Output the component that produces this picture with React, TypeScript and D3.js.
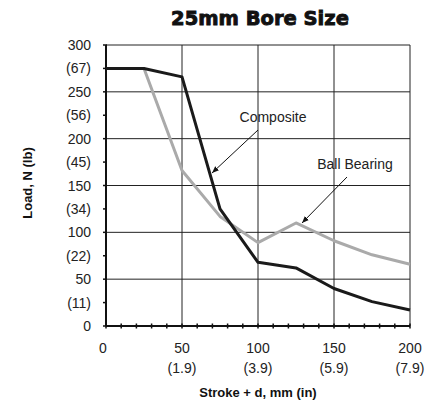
import React from 'react';
import * as d3 from 'd3';

const strokes = [0, 25, 50, 75, 100, 125, 150, 175, 200];
const composite = [275, 275, 266, 125, 68, 62, 40, 26, 17];
const ballBearing = [275, 275, 166, 117, 89, 110, 91, 76, 66];

const yMajor = [0, 50, 100, 150, 200, 250, 300];
const yMinorLabels: [number, string][] = [[25, '(11)'], [75, '(22)'], [125, '(34)'], [175, '(45)'], [225, '(56)'], [275, '(67)']];
const xMajor = [0, 50, 100, 150, 200];
const xInchLabels: [number, string][] = [[50, '(1.9)'], [100, '(3.9)'], [150, '(5.9)'], [200, '(7.9)']];

export default function App() {
  const x = d3.scaleLinear().domain([0, 200]).range([106, 410]);
  const y = d3.scaleLinear().domain([0, 300]).range([326, 45]);

  const line = d3.line<number>()
    .x((_, i) => x(strokes[i]))
    .y(d => y(d));

  const xMinor = d3.range(0, 201, 10);
  const yMinor = d3.range(0, 301, 25);
  const font = 'Liberation Sans, Arial, sans-serif';

  return (
    <svg width={433} height={407} style={{ position: 'absolute', left: 0, top: 0, background: '#fff' }} fontFamily={font}>
      <defs>
        <marker id="arr" viewBox="0 0 10 10" refX="10" refY="5" markerWidth="7" markerHeight="7" orient="auto">
          <path d="M0,1 L10,5 L0,9 z" fill="#111" />
        </marker>
      </defs>
      <text x={260} y={25} textAnchor="middle" fontSize={19.5} fontFamily="DejaVu Sans, sans-serif" fontWeight="bold" stroke="#111" strokeWidth={0.9} fill="#111">25mm Bore Size</text>

      {/* grid */}
      {yMajor.slice(1).map(v => (
        <line key={'gy' + v} x1={x(0)} x2={x(200)} y1={y(v)} y2={y(v)} stroke="#222" strokeWidth={1} />
      ))}
      {xMajor.slice(1).map(v => (
        <line key={'gx' + v} x1={x(v)} x2={x(v)} y1={y(0)} y2={y(300)} stroke="#222" strokeWidth={1} />
      ))}

      {/* axes */}
      <line x1={x(0)} x2={x(0)} y1={y(0)} y2={y(300)} stroke="#111" strokeWidth={2} />
      <line x1={x(0)} x2={x(200)} y1={y(0)} y2={y(0)} stroke="#111" strokeWidth={2} />
      {xMinor.map(v => (
        <line key={'tx' + v} x1={x(v)} x2={x(v)} y1={y(0) - 2.5} y2={y(0) + 2.5} stroke="#111" strokeWidth={1.5} />
      ))}
      {yMinor.map(v => (
        <line key={'ty' + v} x1={x(0) - 3} x2={x(0) + 1} y1={y(v)} y2={y(v)} stroke="#111" strokeWidth={1.5} />
      ))}

      {/* lines */}
      <path d={line(ballBearing) || ''} fill="none" stroke="#aaaaaa" strokeWidth={3} strokeLinejoin="round" />
      <path d={line(composite) || ''} fill="none" stroke="#1a1a1a" strokeWidth={3} strokeLinejoin="round" />

      {/* y labels */}
      {yMajor.map(v => (
        <text key={'ly' + v} x={91} y={y(v) + 5} textAnchor="end" fontSize={14} fill="#222">{v}</text>
      ))}
      {yMinorLabels.map(([v, t]) => (
        <text key={'lm' + v} x={91} y={y(v) + 5} textAnchor="end" fontSize={14} fill="#222">{t}</text>
      ))}

      {/* x labels */}
      {xMajor.map(v => (
        <text key={'lx' + v} x={x(v) - (v === 0 ? 3 : 0)} y={353} textAnchor="middle" fontSize={14} fill="#222">{v}</text>
      ))}
      {xInchLabels.map(([v, t]) => (
        <text key={'li' + v} x={x(v)} y={373} textAnchor="middle" fontSize={14} fill="#222">{t}</text>
      ))}

      <text x={258} y={397} textAnchor="middle" fontSize={13} fontWeight="bold" fill="#111">Stroke + d, mm (in)</text>
      <text transform={`translate(32,${183}) rotate(-90)`} textAnchor="middle" fontSize={13} fontWeight="bold" fill="#111">Load, N (lb)</text>

      {/* annotations */}
      <text x={273} y={122} textAnchor="middle" fontSize={14} fill="#222">Composite</text>
      <line x1={258} y1={130} x2={212} y2={173} stroke="#111" strokeWidth={1} markerEnd="url(#arr)" />
      <text x={355} y={169} textAnchor="middle" fontSize={14} fill="#222">Ball Bearing</text>
      <line x1={347} y1={177} x2={302} y2={223} stroke="#111" strokeWidth={1} markerEnd="url(#arr)" />
    </svg>
  );
}
